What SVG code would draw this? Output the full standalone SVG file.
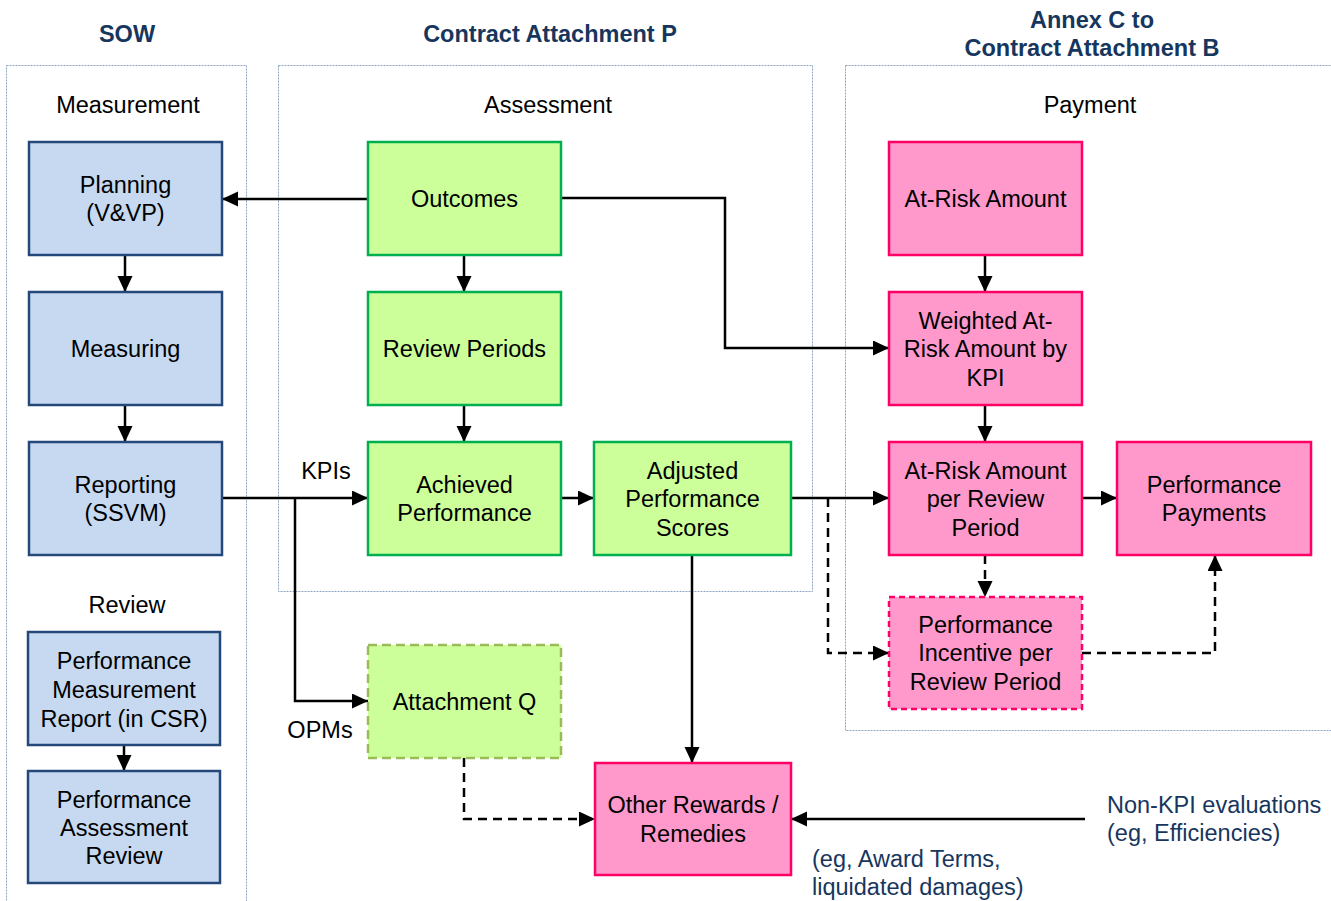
<svg xmlns="http://www.w3.org/2000/svg" width="1331" height="901" viewBox="0 0 1331 901">
<style>
text{font-family:"Liberation Sans",Arial,sans-serif;font-size:23.5px;fill:#000;text-anchor:middle}
.title{font-weight:bold;fill:#17365D}
.note{fill:#17365D;text-anchor:start}
.cont{fill:none;stroke:#8EA4C4;stroke-width:1;stroke-dasharray:2,1}
.blue{fill:#C6D9F1;stroke:#24487A;stroke-width:2.5}
.green{fill:#CCFF99;stroke:#00B050;stroke-width:2.5}
.greend{fill:#CCFF99;stroke:#9BBB59;stroke-width:2.5;stroke-dasharray:9,5}
.pink{fill:#FF99CC;stroke:#FF0066;stroke-width:2.5}
.pinkd{fill:#FF99CC;stroke:#FF0066;stroke-width:2.5;stroke-dasharray:6,4}
.ln{fill:none;stroke:#000;stroke-width:2.5;marker-end:url(#ah)}
.dash{stroke-dasharray:9,6}
</style>
<defs>
<marker id="ah" markerUnits="userSpaceOnUse" markerWidth="17" markerHeight="16" refX="16" refY="7.5" orient="auto">
<path d="M0,0 L16,7.5 L0,15 z" fill="#000"/>
</marker>
</defs>
<rect width="1331" height="901" fill="#fff"/>
<g id="containers">
<rect class="cont" x="6.5" y="65.5" width="240" height="860"/>
<rect class="cont" x="278.5" y="65.5" width="534" height="526"/>
<rect class="cont" x="845.5" y="65.5" width="500" height="665"/>
<text class="title" x="127" y="42">SOW</text>
<text class="title" x="550" y="42">Contract Attachment P</text>
<text class="title" x="1092" y="28">Annex C to</text>
<text class="title" x="1092" y="56">Contract Attachment B</text>
<text x="128" y="113">Measurement</text>
<text x="548" y="113">Assessment</text>
<text x="1090" y="113">Payment</text>
<text x="127" y="613">Review</text>
</g>
<g id="connectors">
<path class="ln" d="M368,199 H222"/>
<path class="ln" d="M125,255 V292"/>
<path class="ln" d="M125,405 V442"/>
<path class="ln" d="M124,745 V771"/>
<path class="ln" d="M464,255 V292"/>
<path class="ln" d="M464,405 V442"/>
<path class="ln" d="M222,498 H368"/>
<path class="ln" d="M295,498 V701 H368"/>
<path class="ln" d="M561,498 H594"/>
<path class="ln" d="M561,198 H725 V348 H889"/>
<path class="ln" d="M985,255 V292"/>
<path class="ln" d="M985,405 V442"/>
<path class="ln" d="M791,498 H889"/>
<path class="ln" d="M1082,498 H1117"/>
<path class="ln dash" d="M828,498 V653 H889"/>
<path class="ln dash" d="M985,555 V597"/>
<path class="ln dash" d="M1082,653 H1215 V555"/>
<path class="ln" d="M692,555 V763"/>
<path class="ln dash" d="M464,758 V819 H595"/>
<path class="ln" d="M1085,819 H791"/>
<text x="326" y="479">KPIs</text>
<text x="320" y="738">OPMs</text>
</g>
<g id="planning"><rect class="blue" x="29" y="142" width="193" height="113"/><text x="125.5" y="193">Planning</text><text x="125.5" y="221">(V&amp;VP)</text></g>
<g id="measuring"><rect class="blue" x="29" y="292" width="193" height="113"/><text x="125.5" y="357">Measuring</text></g>
<g id="reporting"><rect class="blue" x="29" y="442" width="193" height="113"/><text x="125.5" y="493">Reporting</text><text x="125.5" y="521">(SSVM)</text></g>
<g id="pmr"><rect class="blue" x="28" y="632" width="192" height="113"/><text x="124" y="669">Performance</text><text x="124" y="698">Measurement</text><text x="124" y="727">Report (in CSR)</text></g>
<g id="par"><rect class="blue" x="28" y="771" width="192" height="112"/><text x="124" y="808">Performance</text><text x="124" y="836">Assessment</text><text x="124" y="864">Review</text></g>
<g id="outcomes"><rect class="green" x="368" y="142" width="193" height="113"/><text x="464.5" y="207">Outcomes</text></g>
<g id="reviewperiods"><rect class="green" x="368" y="292" width="193" height="113"/><text x="464.5" y="357">Review Periods</text></g>
<g id="achieved"><rect class="green" x="368" y="442" width="193" height="113"/><text x="464.5" y="493">Achieved</text><text x="464.5" y="521">Performance</text></g>
<g id="adjusted"><rect class="green" x="594" y="442" width="197" height="113"/><text x="692.5" y="479">Adjusted</text><text x="692.5" y="507">Performance</text><text x="692.5" y="536">Scores</text></g>
<g id="attq"><rect class="greend" x="368" y="645" width="193" height="113"/><text x="464.5" y="710">Attachment Q</text></g>
<g id="atrisk"><rect class="pink" x="889" y="142" width="193" height="113"/><text x="985.5" y="207">At-Risk Amount</text></g>
<g id="weighted"><rect class="pink" x="889" y="292" width="193" height="113"/><text x="985.5" y="329">Weighted At-</text><text x="985.5" y="357">Risk Amount by</text><text x="985.5" y="386">KPI</text></g>
<g id="atriskrp"><rect class="pink" x="889" y="442" width="193" height="113"/><text x="985.5" y="479">At-Risk Amount</text><text x="985.5" y="507">per Review</text><text x="985.5" y="536">Period</text></g>
<g id="perfpay"><rect class="pink" x="1117" y="442" width="194" height="113"/><text x="1214" y="493">Performance</text><text x="1214" y="521">Payments</text></g>
<g id="incentive"><rect class="pinkd" x="889" y="597" width="193" height="112"/><text x="985.5" y="633">Performance</text><text x="985.5" y="661">Incentive per</text><text x="985.5" y="690">Review Period</text></g>
<g id="other"><rect class="pink" x="595" y="763" width="196" height="112"/><text x="693" y="813">Other Rewards /</text><text x="693" y="842">Remedies</text></g>
<g id="notes">
<text class="note" x="1107" y="813">Non-KPI evaluations</text>
<text class="note" x="1107" y="841">(eg, Efficiencies)</text>
<text class="note" x="812" y="867">(eg, Award Terms,</text>
<text class="note" x="812" y="895">liquidated damages)</text>
</g>
</svg>
